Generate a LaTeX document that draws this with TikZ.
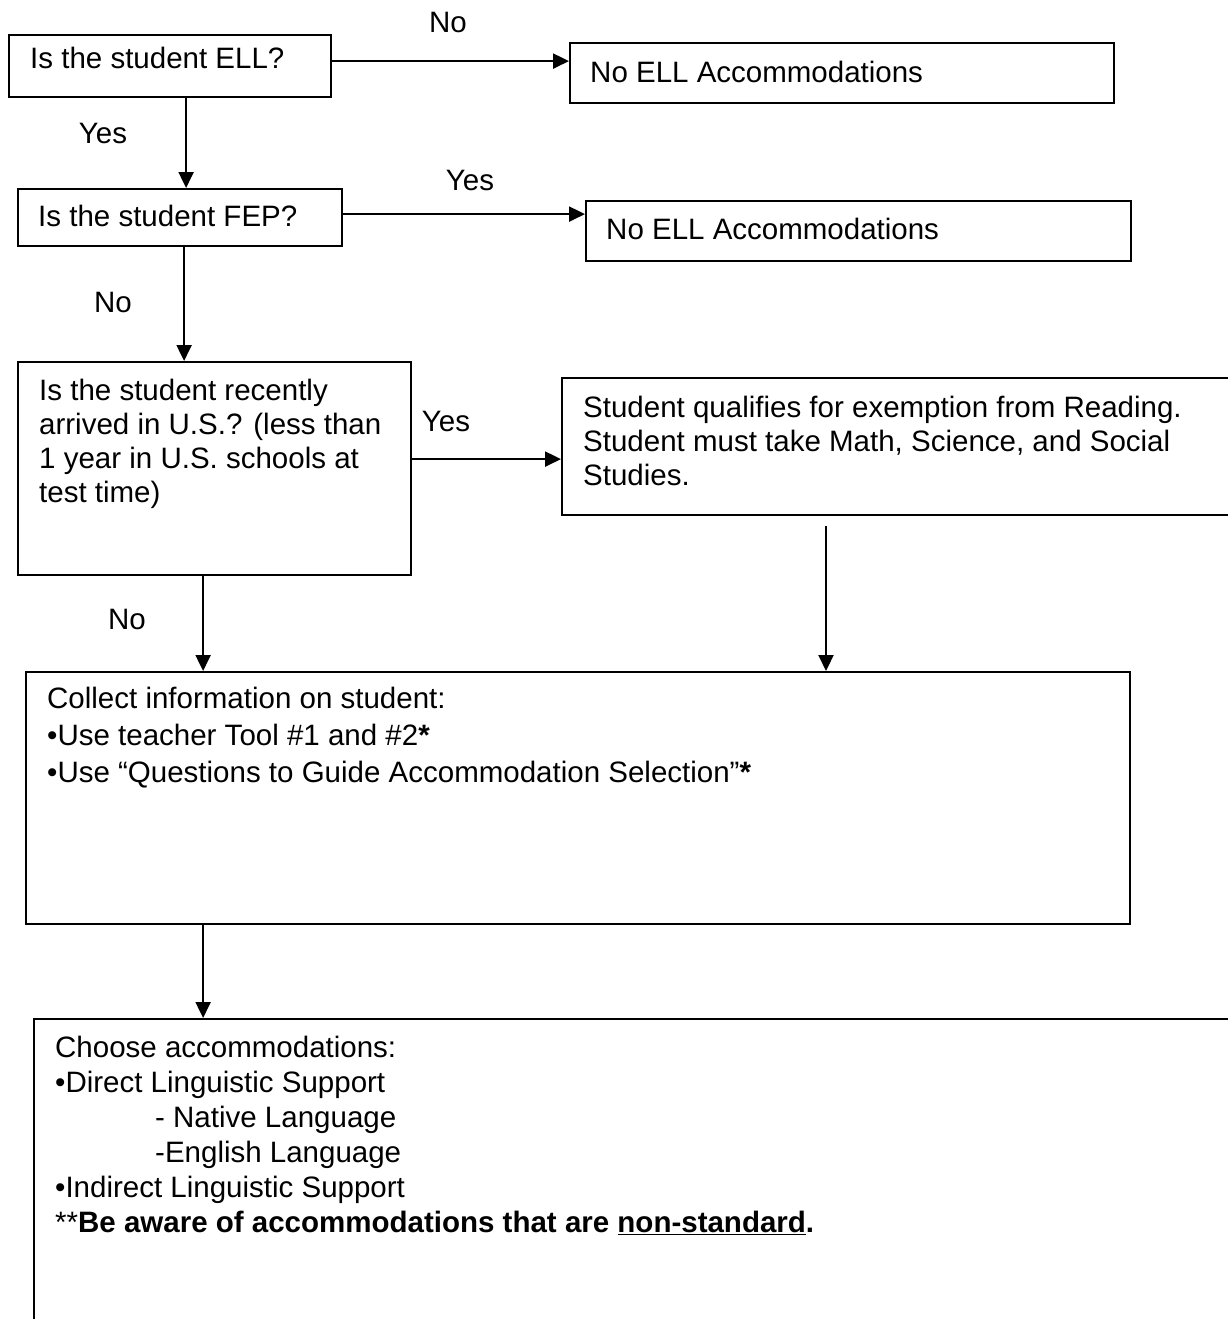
\documentclass[tikz,border=0pt]{standalone}
\usepackage{fontspec}
\setmainfont{Liberation Sans}
\usetikzlibrary{arrows.meta}

\tikzset{
  box/.style={draw,line width=2.2pt,anchor=north west,inner sep=0pt},
  txt/.style={anchor=north west,inner sep=0pt,align=left,
    font=\fontsize{29.5}{34}\selectfont},
  lbl/.style={inner sep=0pt,font=\fontsize{29.5}{34}\selectfont},
  arr/.style={line width=2.2pt,-{Triangle[width=15pt,length=16pt]}}
}

\begin{document}
\begin{tikzpicture}[x=1pt,y=-1pt]
\useasboundingbox (0,0) rectangle (1228,1319);
\clip (0,0) rectangle (1228,1319);
% boxes
\node[box,minimum width=322pt,minimum height=62pt] (ell) at (8,34) {};
\node[box,minimum width=544pt,minimum height=60pt] (noaccA) at (569,42) {};
\node[box,minimum width=324pt,minimum height=57pt] (fep) at (17,188) {};
\node[box,minimum width=545pt,minimum height=60pt] (noaccB) at (585,200) {};
\node[box,minimum width=393pt,minimum height=213pt] (recent) at (17,361) {};
\node[box,minimum width=680pt,minimum height=137pt] (exempt) at (561,377) {};
\node[box,minimum width=1104pt,minimum height=252pt] (collect) at (25,671) {};
\node[box,minimum width=1210pt,minimum height=320pt] (choose) at (33,1018) {};
% texts
\node[txt] (ellT) at (30,47) {Is the student ELL?};
\node[txt] (noaccAT) at (590,61) {No ELL Accommodations};
\node[txt] (fepT) at (38,205) {Is the student FEP?};
\node[txt] (noaccBT) at (606,218) {No ELL Accommodations};
\node[txt] (recentT) at (39,379) {Is the student recently\\arrived in U.S.? (less than\\1 year in U.S. schools at\\test time)};
\node[txt] (exemptT) at (583,396) {Student qualifies for exemption from Reading.\\Student must take Math, Science, and Social\\Studies.};
\node[txt,font=\fontsize{29.5}{37}\selectfont] (collectT) at (47,687)
  {Collect information on student:\\
   •Use teacher Tool \#1 and \#2\textbf{*}\\
   •Use “Questions to Guide Accommodation Selection”\textbf{*}};
\node[txt,font=\fontsize{29.5}{35}\selectfont] (chooseT) at (55,1036)
  {Choose accommodations:\\
   •Direct Linguistic Support\\
   \hspace*{100pt}- Native Language\\
   \hspace*{100pt}-English Language\\
   •Indirect Linguistic Support\\
   **\textbf{Be aware of accommodations that are \underline{non-standard}.}};
% connectors
\coordinate (gap) at (826,526);
\draw[arr] ([yshift=5pt]ell.east) -- ([yshift=5pt]ell.east -| noaccA.west);
\draw[arr] ([xshift=16pt]ell.south) -- ([xshift=16pt]ell.south |- fep.north);
\draw[arr] ([yshift=3.5pt]fep.east) -- ([yshift=3.5pt]fep.east -| noaccB.west);
\draw[arr] ([xshift=4pt]fep.south) -- ([xshift=4pt]fep.south |- recent.north);
\draw[arr] ([yshift=9.5pt]recent.east) -- ([yshift=9.5pt]recent.east -| exempt.west);
\draw[arr] ([xshift=-11.5pt]recent.south) -- ([xshift=-11.5pt]recent.south |- collect.north);
\draw[arr] (gap) -- (gap |- collect.north);
\draw[arr] ([xshift=-375pt]collect.south) -- ([xshift=-375pt]collect.south |- choose.north);
% labels
\node[lbl] (noA) at (448,22) {No};
\node[lbl] (yesA) at (103,133) {Yes};
\node[lbl] (yesB) at (470,180) {Yes};
\node[lbl] (noB) at (113,302) {No};
\node[lbl] (yesC) at (446,421) {Yes};
\node[lbl] (noC) at (127,619) {No};
\end{tikzpicture}
\end{document}
